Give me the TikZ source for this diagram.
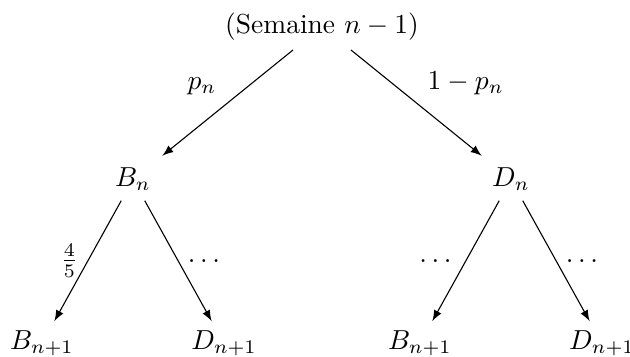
\documentclass[tikz,border=0pt]{standalone}
\usepackage{amsthm,amsfonts,amsmath,amssymb}
\usepackage{tikz}

\begin{document}
\begin{tikzpicture}
\tikzset{>=latex}
\useasboundingbox (-4.118,-4.214) rectangle (3.939,0.339);

% Racine
\node (1) at (0,0) {(Semaine $n-1$)};
% Semaine n
\node (2) at (-2.417,-1.957) {$B_n$};
\node (3) at (2.417,-1.957) {$D_n$};
% Semaine n+1
\node (4) at (-3.581,-4.054) {$B_{n+1}$};
\node (5) at (-1.253,-4.054) {$D_{n+1}$};
\node (6) at (1.253,-4.054) {$B_{n+1}$};
\node (7) at (3.581,-4.054) {$D_{n+1}$};

\path
(1) edge [->,shorten >=1.5pt] node[midway,above left] {$p_n$} (2)
(1) edge [->,shorten >=1.5pt] node[midway,above right] {$1-p_n$} (3)
(2) edge [->] node[midway,left] {$\frac{4}{5}$} (4)
(2) edge [->] node[midway,right] {$\dots$} (5)
(3) edge [->] node[midway,left] {$\dots$} (6)
(3) edge [->] node[midway,right] {$\dots$} (7);

\end{tikzpicture}
\end{document}
